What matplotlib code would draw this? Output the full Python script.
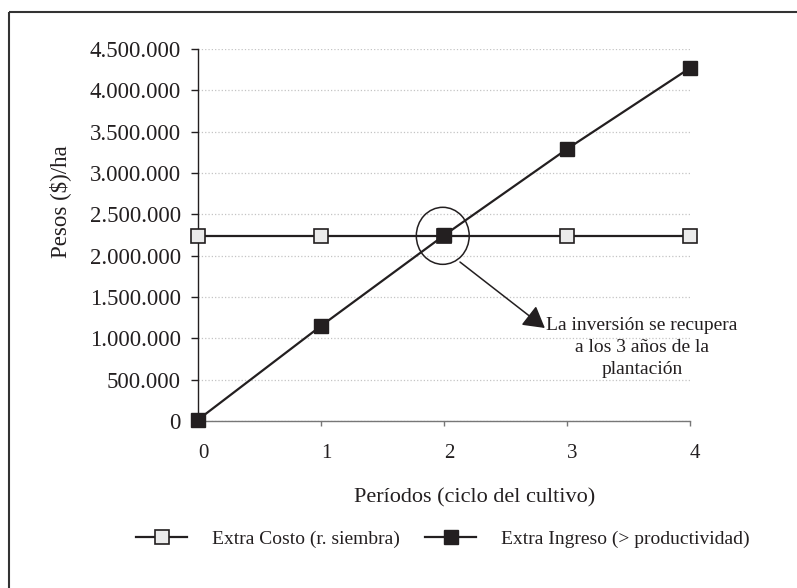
import matplotlib.pyplot as plt
import matplotlib.transforms as mtransforms
from matplotlib.patches import Ellipse, Rectangle
from matplotlib.ticker import FuncFormatter

periodos = [0, 1, 2, 3, 4]
extra_costo = [2240000, 2240000, 2240000, 2240000, 2240000]
extra_ingreso = [15000, 1150000, 2245000, 3290000, 4270000]
yticks = [0, 500000, 1000000, 1500000, 2000000, 2500000, 3000000, 3500000, 4000000, 4500000]

plt.rcParams['font.family'] = ['Liberation Serif', 'DejaVu Serif']
ink = '#231f20'

fig = plt.figure(figsize=(7.97, 5.88), dpi=100)
W, H = 797, 588
ax = fig.add_axes([198 / W, 1 - 421 / H, (690 - 198) / W, (421 - 49) / H])

# outer frame (only top and left edges fall inside the image)
fig.patches.append(Rectangle((9 / W, 1 - 12 / H), 2, -2, transform=fig.transFigure,
                             fill=False, edgecolor='#333333', lw=1.5))

ax.plot(periodos, extra_costo, color=ink, lw=1.6, marker='s', markersize=10.5,
        markerfacecolor='#ebebeb', markeredgecolor=ink, markeredgewidth=1.2,
        clip_on=False, zorder=3, label='Extra Costo (r. siembra)')
ax.plot(periodos, extra_ingreso, color=ink, lw=1.6, marker='s', markersize=10.5,
        markerfacecolor=ink, markeredgecolor=ink, clip_on=False, zorder=4,
        label='Extra Ingreso (> productividad)')

ax.set_xlim(0, 4)
ax.set_ylim(0, 4500000)
ax.set_xticks(periodos)
ax.set_yticks(yticks)
ax.yaxis.set_major_formatter(FuncFormatter(lambda v, p: f'{int(v):,}'.replace(',', '.')))
ax.grid(axis='y', color='#c4c4c4', linestyle=':', linewidth=0.9)
ax.set_axisbelow(True)

for s in ['top', 'right']:
    ax.spines[s].set_visible(False)
ax.spines['left'].set_color(ink)
ax.spines['bottom'].set_color('#777777')
ax.spines['left'].set_linewidth(1.0)
ax.spines['bottom'].set_linewidth(1.0)
ax.tick_params(axis='y', length=5, width=1, pad=7.5, labelsize=16.5, colors=ink)
ax.tick_params(axis='x', length=3.5, width=1, pad=13, labelsize=15, colors=ink)
ax.tick_params(axis='x', color='#777777')
shift = mtransforms.ScaledTranslation(5 / 100, 0, fig.dpi_scale_trans)
for lab in ax.get_xticklabels():
    lab.set_transform(lab.get_transform() + shift)

# break-even marker
ax.add_patch(Ellipse((1.99, 2240000), 0.43, 690000, fill=False, edgecolor=ink,
                     lw=1.1, zorder=5))
ax.annotate('', xy=(2.82, 1125000), xytext=(2.13, 1923000),
            arrowprops=dict(arrowstyle='-|>,head_length=1.3,head_width=0.75',
                            color=ink, lw=1.1, shrinkA=0, shrinkB=0),
            annotation_clip=False)
ax.text(3.61, 1255000, 'La inversión se recupera\na los 3 años de la\nplantación',
        ha='center', va='top', fontsize=14, color=ink, linespacing=1.38)

fig.text(60 / W, 1 - 202 / H, 'Pesos ($)/ha', rotation=90, ha='center', va='center',
         fontsize=16.5, color=ink)
fig.text(475 / W, 1 - 498 / H, 'Períodos (ciclo del cultivo)', ha='center', va='center',
         fontsize=16, color=ink)

ax.legend(loc='center', bbox_to_anchor=(443 / W, 1 - 539 / H), bbox_transform=fig.transFigure,
          ncol=2, frameon=False, fontsize=14, handlelength=2.6, handletextpad=1.3,
          columnspacing=1.3, labelcolor=ink)

fig.savefig('out.png', dpi=100)
